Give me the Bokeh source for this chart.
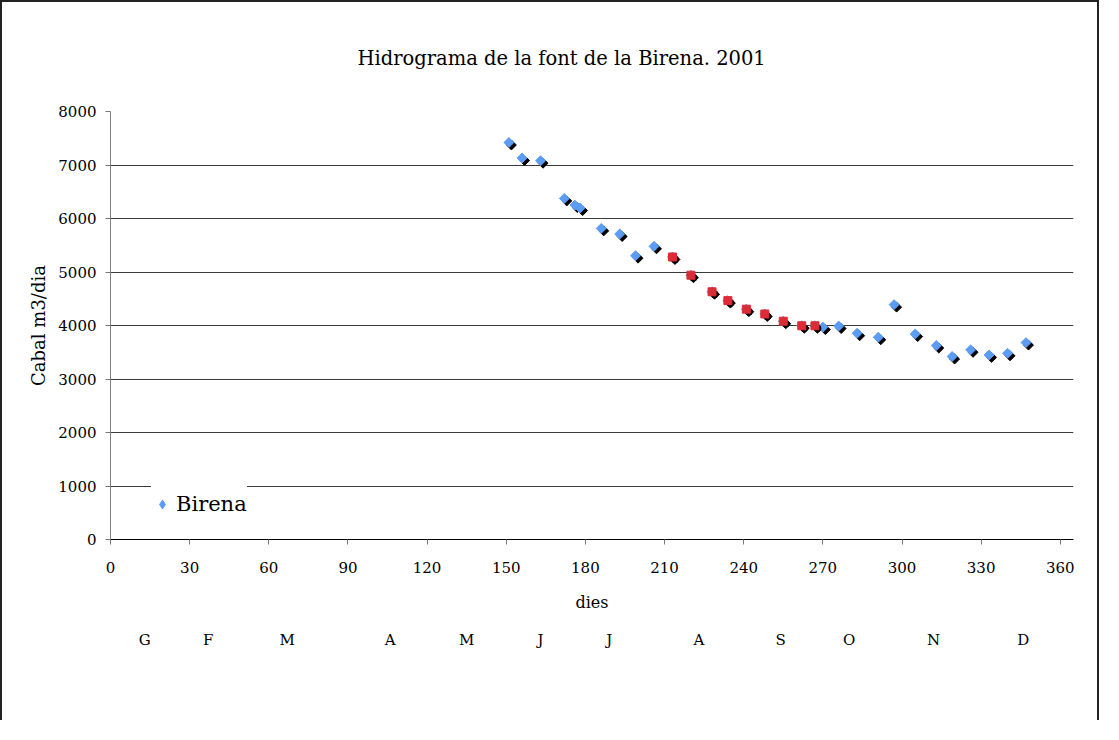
import numpy as np
from bokeh.plotting import figure
from bokeh.models import (ColumnDataSource, FixedTicker, LinearAxis, Legend, LegendItem,
                          Range1d)
from bokeh.transform import dodge
from bokeh.embed import file_html
from bokeh.resources import INLINE

# ---- data ----
days = [151, 156, 163, 172, 176, 178, 186, 193, 199, 206, 213, 220, 228, 234, 241, 248,
        255, 262, 267, 270, 276, 283, 291, 297, 305, 313, 319, 326, 333, 340, 347]
flow = [7420, 7130, 7080, 6375, 6250, 6195, 5815, 5710, 5305, 5480, 5280, 4940, 4630, 4465,
        4305, 4215, 4080, 3995, 3995, 3970, 3990, 3855, 3780, 4390, 3840, 3625, 3420, 3545,
        3450, 3480, 3680]
red_days = [213, 220, 228, 234, 241, 248, 255, 262, 267]
red_flow = [5280, 4940, 4630, 4465, 4305, 4215, 4080, 3995, 3995]

x_ticks = list(range(0, 361, 30))
y_ticks = list(range(0, 8001, 1000))
month_pos = [13, 37, 67, 106, 135, 163, 189, 223, 254, 280, 312, 346]
month_lbl = ["G", "F", "M", "A", "M", "J", "J", "A", "S", "O", "N", "D"]

TITLE = "Hidrograma de la font de la Birena. 2001"
SERIES = "Birena"
FONT = "DejaVu Serif"
X_MAX, Y_MAX = 365, 8000

W, H = 1099, 720
MB_L, MB_R, MB_T, MB_B = 108, 28, 109, 183
FRAME_W = W - MB_L - MB_R
FRAME_H = H - MB_T - MB_B
SHADOW_PX = 2.5

p = figure(width=W, height=H, output_backend="svg", toolbar_location=None,
           x_range=Range1d(0, X_MAX), y_range=Range1d(0, Y_MAX),
           min_border_left=MB_L, min_border_right=MB_R,
           min_border_top=MB_T, min_border_bottom=MB_B,
           background_fill_color="white", border_fill_color="white",
           outline_line_color=None)
p.styles = {"border-top": "2px solid #222", "border-left": "2px solid #222",
            "border-right": "2px solid #222"}

p.title.text = TITLE
p.title.align = "left"
p.title.offset = 247
p.title.text_font = FONT
p.title.text_font_size = "19.5px"
p.title.text_font_style = "normal"
p.title.text_color = "black"
p.title.standoff = 84

src = ColumnDataSource(dict(x=days, y=flow))
rsrc = ColumnDataSource(dict(x=red_days, y=red_flow))
legend_src = ColumnDataSource(dict(x=[np.nan], y=[np.nan]))

dx = SHADOW_PX * X_MAX / FRAME_W
dy = -SHADOW_PX * Y_MAX / FRAME_H
shadow = p.scatter(x=dodge("x", dx), y=dodge("y", dy), source=src, marker="square",
                   angle=np.pi / 4, size=7, fill_color="black", line_color="black")
blue = p.scatter(x="x", y="y", source=src, marker="square", angle=np.pi / 4, size=7,
                 fill_color="#5B9CF5", line_color="#5B9CF5")
rshadow = p.scatter(x=dodge("x", dx), y=dodge("y", dy), source=rsrc, marker="circle",
                    size=7, fill_color="black", line_color="black")
red = p.scatter(x="x", y="y", source=rsrc, marker="square", size=8,
                fill_color="#DC2C36", line_color="#DC2C36")
legend_glyph = p.scatter(x="x", y="y", source=legend_src, marker="diamond", size=10,
                         fill_color="#5B9CF5", line_color="#5B9CF5")

# axes
xa = p.xaxis[0]
xa.ticker = FixedTicker(ticks=x_ticks)
xa.axis_label = "dies"
ya = p.yaxis[0]
ya.ticker = FixedTicker(ticks=y_ticks)
ya.axis_label = "Cabal m3/dia"
for ax in (xa, ya):
    ax.major_label_text_font = FONT
    ax.major_label_text_font_size = "15px"
    ax.major_label_text_color = "black"
    ax.axis_label_text_font = FONT
    ax.axis_label_text_font_style = "normal"
    ax.axis_label_text_color = "black"
    ax.major_tick_in = 0
    ax.major_tick_out = 5
    ax.minor_tick_line_color = None
    ax.major_tick_line_color = "#777777"
xa.axis_label_text_font_size = "16px"
ya.axis_label_text_font_size = "18px"
xa.axis_line_color = "black"
ya.axis_line_color = "#808080"
xa.major_label_standoff = 17
xa.axis_label_standoff = 17
ya.major_label_standoff = 9
ya.axis_label_standoff = 6

month_axis = LinearAxis(ticker=FixedTicker(ticks=month_pos),
                        major_label_overrides={pos: lbl for pos, lbl in zip(month_pos, month_lbl)})
month_axis.axis_line_color = None
month_axis.major_tick_line_color = None
month_axis.minor_tick_line_color = None
month_axis.major_label_text_font = FONT
month_axis.major_label_text_font_size = "15px"
month_axis.major_label_text_color = "black"
month_axis.major_label_standoff = 10
p.add_layout(month_axis, "below")

p.xgrid.grid_line_color = None
p.ygrid.ticker = FixedTicker(ticks=y_ticks)
p.ygrid.grid_line_color = "#3a3a3a"
p.ygrid.grid_line_width = 1

legend = Legend(items=[LegendItem(label=SERIES, renderers=[legend_glyph])],
                location=(41, 11), border_line_color=None,
                background_fill_color="white", background_fill_alpha=1.0,
                label_text_font=FONT, label_text_font_size="21px",
                label_text_color="black", glyph_width=22, glyph_height=22,
                label_height=48, padding=4, label_standoff=3, margin=0)
p.add_layout(legend, "center")

open("out.html", "w").write(file_html(p, INLINE))
